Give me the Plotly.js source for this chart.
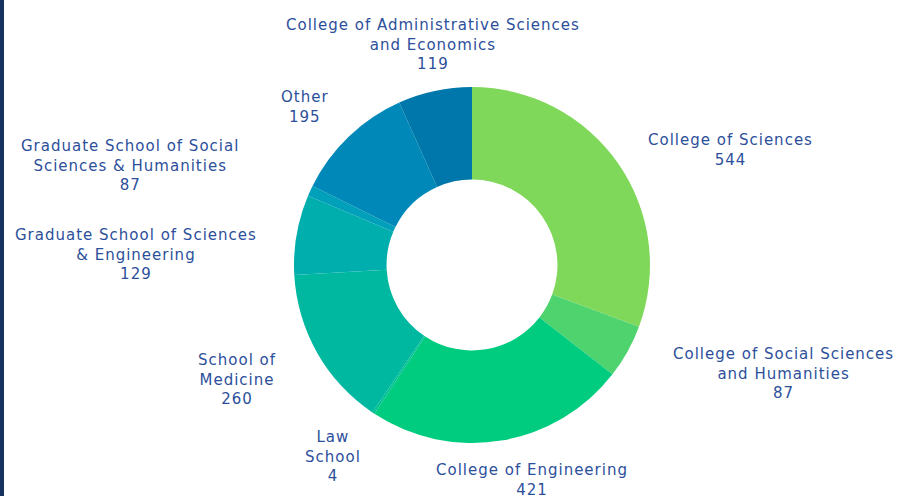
<!DOCTYPE html>
<html>
<head>
<meta charset="utf-8">
<script src="https://cdn.plot.ly/plotly-3.0.1.min.js"></script>
<style>
  html, body { margin: 0; padding: 0; background: #ffffff; overflow: hidden; }
  #chart { width: 909px; height: 496px; }
  #edge { position: absolute; left: 0; top: 0; width: 4px; height: 496px; background: #16325e; z-index: 10; }
  .annotation-text { letter-spacing: 1px; }
</style>
</head>
<body>
<div id="edge"></div>
<div id="chart"></div>
<script>
// Categories in clockwise order starting at 12 o'clock
var categories = [
  "College of Sciences",
  "College of Social Sciences and Humanities",
  "College of Engineering",
  "Law School",
  "School of Medicine",
  "Graduate School of Sciences & Engineering",
  "Graduate School of Social Sciences & Humanities",
  "Other",
  "College of Administrative Sciences and Economics"
];
// Slice sizes as drawn in the picture
var sliceValues = [544, 87, 421, 4, 260, 129, 17, 195, 119];
// Values as printed in the labels
var printedValues = ["544", "87", "421", "4", "260", "129", "87", "195", "119"];
// Wrapped label text as shown
var labelLines = [
  "College of Sciences",
  "College of Social Sciences<br>and Humanities",
  "College of Engineering",
  "Law<br>School",
  "School of<br>Medicine",
  "Graduate School of Sciences<br>& Engineering",
  "Graduate School of Social<br>Sciences & Humanities",
  "Other",
  "College of Administrative Sciences<br>and Economics"
];
var sliceColors = ["#80d85a", "#4fd36e", "#00cc7f", "#00c191", "#00b8a0", "#00aeae", "#009fba", "#0089b8", "#0077aa"];

// Label block centres (pixels in the 909x496 page)
var labelCenters = [
  [730, 150], [783, 373], [532, 480], [333, 456], [237, 379],
  [136, 254], [130, 165], [305, 107], [433, 45]
];

var W = 909, H = 496;
var annotations = categories.map(function (c, i) {
  return {
    text: labelLines[i] + "<br>" + printedValues[i],
    x: labelCenters[i][0] / W,
    y: 1 - labelCenters[i][1] / H,
    xref: "paper", yref: "paper",
    xanchor: "center", yanchor: "middle",
    align: "center",
    showarrow: false,
    font: { family: "DejaVu Sans, sans-serif", size: 15, color: "#2c4f9b" }
  };
});

var cx = 472, cy = 265, r = 178;
var data = [{
  type: "pie",
  labels: categories,
  values: sliceValues,
  sort: false,
  direction: "clockwise",
  rotation: 0,
  hole: 0.48,
  textinfo: "none",
  hoverinfo: "label+value",
  marker: { colors: sliceColors, line: { width: 0 } },
  domain: {
    x: [(cx - r) / W, (cx + r) / W],
    y: [1 - (cy + r) / H, 1 - (cy - r) / H]
  },
  showlegend: false
}];

var layout = {
  width: W, height: H,
  margin: { l: 0, r: 0, t: 0, b: 0 },
  paper_bgcolor: "#ffffff",
  plot_bgcolor: "#ffffff",
  showlegend: false,
  annotations: annotations
};

Plotly.newPlot("chart", data, layout, { displayModeBar: false, staticPlot: true });
</script>
</body>
</html>
